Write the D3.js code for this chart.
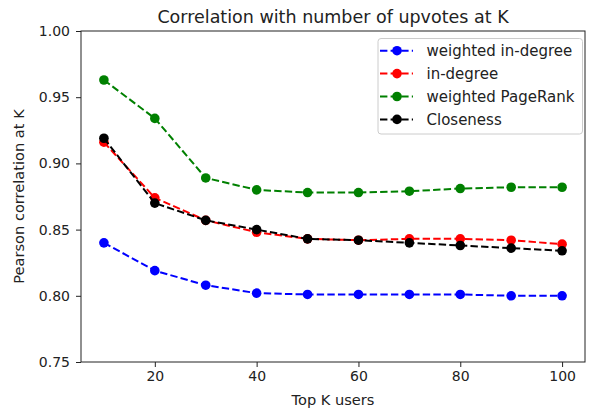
<!DOCTYPE html>
<html>
<head>
<meta charset="utf-8">
<script src="https://cdn.jsdelivr.net/npm/d3@7"></script>
<style>
  body { margin: 0; background: #fff; }
  svg { display: block; }
  text { font-family: "DejaVu Sans", sans-serif; fill: #222; }
</style>
</head>
<body>
<svg id="chart" width="589" height="412"></svg>
<script>
const kValues = [10, 20, 30, 40, 50, 60, 70, 80, 90, 100];
const weightedInDegree = [0.840, 0.819, 0.808, 0.802, 0.801, 0.801, 0.801, 0.801, 0.800, 0.800];
const inDegree = [0.916, 0.874, 0.857, 0.848, 0.843, 0.842, 0.843, 0.843, 0.842, 0.839];
const weightedPageRank = [0.963, 0.934, 0.889, 0.880, 0.878, 0.878, 0.879, 0.881, 0.882, 0.882];
const closeness = [0.919, 0.870, 0.857, 0.850, 0.843, 0.842, 0.840, 0.838, 0.836, 0.834];
const seriesNames = ["weighted in-degree", "in-degree", "weighted PageRank", "Closeness"];
const seriesColors = ["#0000ff", "#ff0000", "#008000", "#000000"];
const xTicks = [20, 40, 60, 80, 100];
const yTicks = [0.75, 0.80, 0.85, 0.90, 0.95, 1.00];

const series = [weightedInDegree, inDegree, weightedPageRank, closeness];

const svg = d3.select("#chart");
const mLeft = 81, mRight = 585, mTop = 31, mBottom = 362;

const x = d3.scaleLinear().domain([5.5, 104.5]).range([mLeft, mRight]);
const y = d3.scaleLinear().domain([0.75, 1.00]).range([mBottom, mTop]);

// lines and markers
const line = d3.line().x((d, i) => x(kValues[i])).y(d => y(d));
series.forEach((vals, si) => {
  const g = svg.append("g");
  g.append("path")
    .datum(vals)
    .attr("d", line)
    .attr("fill", "none")
    .attr("stroke", seriesColors[si])
    .attr("stroke-width", 2)
    .attr("stroke-dasharray", "7.4,3.2");
  g.selectAll("circle").data(vals).enter().append("circle")
    .attr("cx", (d, i) => x(kValues[i]))
    .attr("cy", d => y(d))
    .attr("r", 4.8)
    .attr("fill", seriesColors[si]);
});

// axes
const xAxis = d3.axisBottom(x).tickValues(xTicks).tickSize(5).tickPadding(4.5).tickFormat(d3.format("d"));
const yAxis = d3.axisLeft(y).tickValues(yTicks).tickSize(5).tickPadding(6).tickFormat(d3.format(".2f"));

const gx = svg.append("g").attr("transform", `translate(0,${mBottom})`).call(xAxis);
const gy = svg.append("g").attr("transform", `translate(${mLeft},0)`).call(yAxis);
[gx, gy].forEach(g => {
  g.select(".domain").remove();
  g.selectAll(".tick line").attr("stroke", "#222").attr("stroke-width", 1);
  g.selectAll(".tick text").attr("font-size", 14).attr("font-family", "DejaVu Sans").attr("fill", "#222");
});

// spines
svg.append("rect")
  .attr("x", mLeft).attr("y", mTop)
  .attr("width", mRight - mLeft).attr("height", mBottom - mTop)
  .attr("fill", "none").attr("stroke", "#222").attr("stroke-width", 1);

// title and labels
svg.append("text")
  .attr("x", (mLeft + mRight) / 2).attr("y", 22.5)
  .attr("text-anchor", "middle").attr("font-size", 17.5)
  .text("Correlation with number of upvotes at K");
svg.append("text")
  .attr("x", (mLeft + mRight) / 2).attr("y", 405)
  .attr("text-anchor", "middle").attr("font-size", 14.6)
  .text("Top K users");
svg.append("text")
  .attr("transform", `translate(24,${(mTop + mBottom) / 2}) rotate(-90)`)
  .attr("text-anchor", "middle").attr("font-size", 14.6)
  .text("Pearson correlation at K");

// legend
const lg = svg.append("g");
lg.append("rect")
  .attr("x", 378).attr("y", 38.5).attr("width", 204.5).attr("height", 95.5)
  .attr("rx", 3).attr("fill", "#fff").attr("fill-opacity", 0.8)
  .attr("stroke", "#ccc").attr("stroke-width", 1);
seriesNames.forEach((name, i) => {
  const cy = 50.7 + i * 22.9;
  lg.append("line")
    .attr("x1", 380).attr("x2", 413).attr("y1", cy).attr("y2", cy)
    .attr("stroke", seriesColors[i]).attr("stroke-width", 2)
    .attr("stroke-dasharray", "7.4,3.2");
  lg.append("circle").attr("cx", 397).attr("cy", cy).attr("r", 4.8).attr("fill", seriesColors[i]);
  lg.append("text")
    .attr("x", 426.5).attr("y", cy + 5.3)
    .attr("font-size", 15)
    .text(name);
});
</script>
</body>
</html>
